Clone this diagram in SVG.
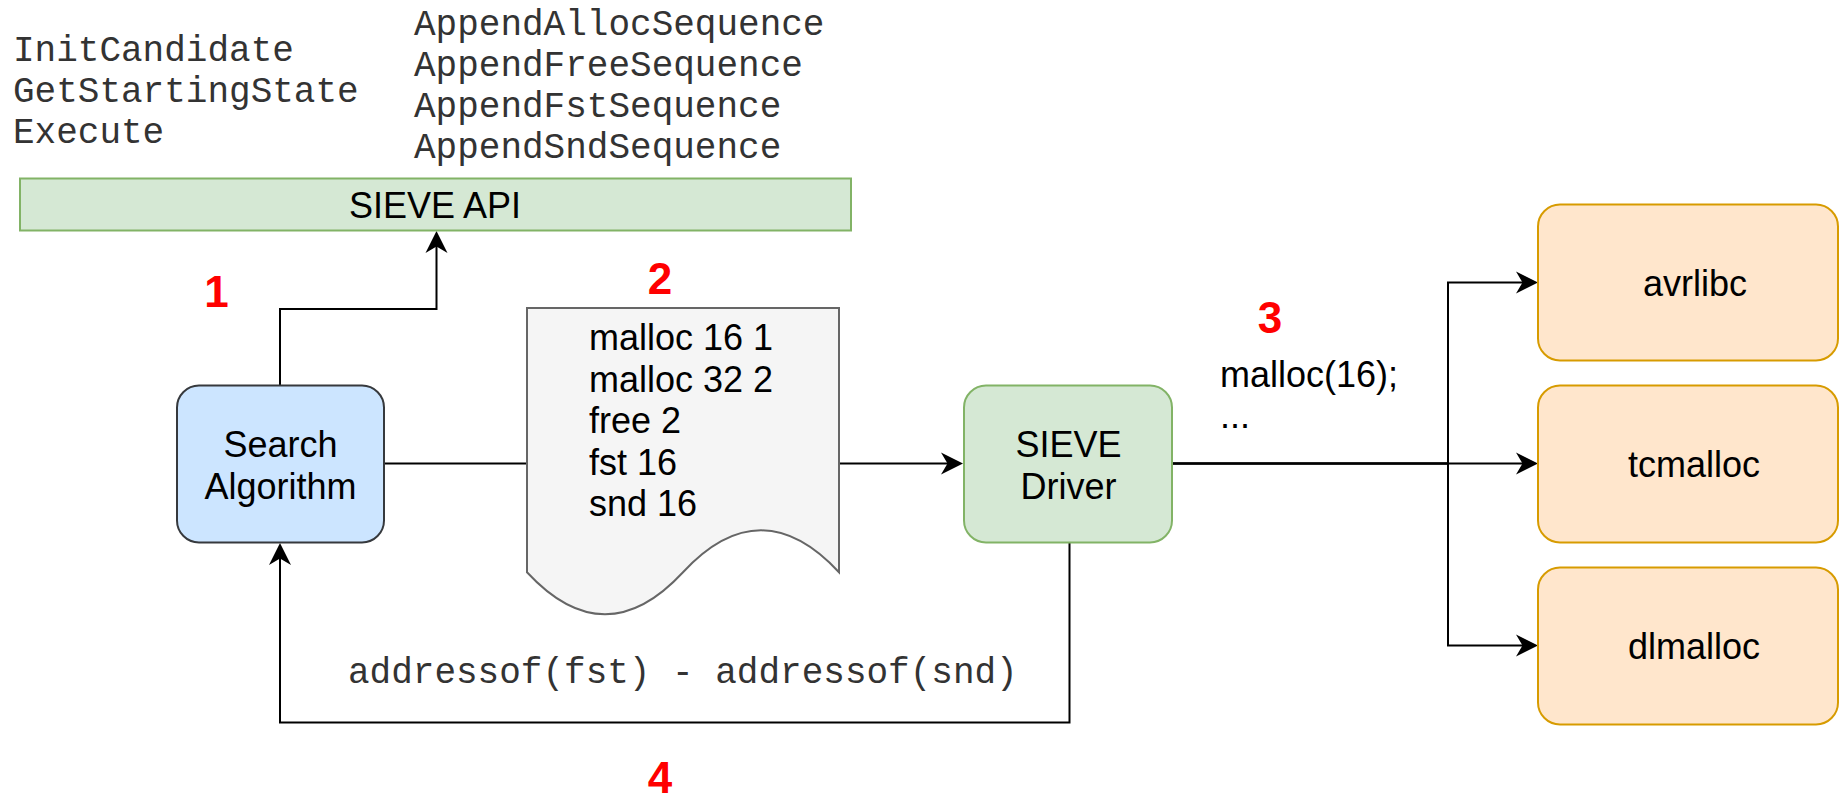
<svg xmlns="http://www.w3.org/2000/svg" width="1842" height="802" viewBox="0 0 1842 802">
  <style>
    .mono { font-family: "Liberation Mono", "Courier New", monospace; font-size: 36px; fill: #333; }
    .sans { font-family: "Liberation Sans", Arial, Helvetica, sans-serif; font-size: 36px; fill: #000; }
    .step { font-family: "Liberation Sans", Arial, Helvetica, sans-serif; font-size: 44px; font-weight: bold; fill: #ff0000; text-anchor: middle; }
    .mid { text-anchor: middle; }
    .edge { fill: none; stroke: #000; stroke-width: 2; }
    .green { fill: #d5e8d4; stroke: #82b366; stroke-width: 2; }
    .orange { fill: #ffe6cc; stroke: #d79b00; stroke-width: 2; }
  </style>
  <defs>
    <marker id="arrow" markerUnits="userSpaceOnUse" viewBox="-25 -12 30 24" markerWidth="30" markerHeight="24" refX="-3" refY="0" orient="auto">
      <path d="M0,0 L-22,-11 L-15.5,0 L-22,11 Z" fill="#000"/>
    </marker>
  </defs>

  <rect width="1842" height="802" fill="#fff"/>

  <!-- API function lists -->
  <g id="api-calls-left">
    <text class="mono" x="13" y="61">InitCandidate</text>
    <text class="mono" x="13" y="102">GetStartingState</text>
    <text class="mono" x="13" y="143">Execute</text>
  </g>
  <g id="api-calls-right">
    <text class="mono" x="414" y="35">AppendAllocSequence</text>
    <text class="mono" x="414" y="76">AppendFreeSequence</text>
    <text class="mono" x="414" y="117">AppendFstSequence</text>
    <text class="mono" x="414" y="158">AppendSndSequence</text>
  </g>

  <!-- connectors -->
  <g id="connectors">
    <path class="edge" d="M280,385 V309 H436.5 V234" marker-end="url(#arrow)"/>
    <path class="edge" d="M384,463.5 H960" marker-end="url(#arrow)"/>
    <path class="edge" d="M1172,463.5 H1448 V282.5 H1535" marker-end="url(#arrow)"/>
    <path class="edge" d="M1172,463.5 H1535" marker-end="url(#arrow)"/>
    <path class="edge" d="M1172,463.5 H1448 V645.5 H1535" marker-end="url(#arrow)"/>
    <path class="edge" d="M1069.5,542 V722.5 H280 V546" marker-end="url(#arrow)"/>
  </g>

  <!-- nodes -->
  <g id="sieve-api">
    <rect class="green" x="20" y="178.5" width="831" height="52"/>
    <text class="sans mid" x="435" y="218">SIEVE API</text>
  </g>

  <g id="search-algorithm">
    <rect x="177" y="385.5" width="207" height="157" rx="22" ry="22" fill="#cce5ff" stroke="#36393d" stroke-width="2"/>
    <text class="sans mid" x="280.5" y="457">Search</text>
    <text class="sans mid" x="280.5" y="499">Algorithm</text>
  </g>

  <g id="sequence-document">
    <path d="M527,308 H839 V572.3 Q761,488.4 683,572.3 Q605,656.3 527,572.3 Z" fill="#f5f5f5" stroke="#666666" stroke-width="2"/>
    <text class="sans" x="589" y="350">malloc 16 1</text>
    <text class="sans" x="589" y="391.5">malloc 32 2</text>
    <text class="sans" x="589" y="433">free 2</text>
    <text class="sans" x="589" y="474.5">fst 16</text>
    <text class="sans" x="589" y="516">snd 16</text>
  </g>

  <g id="sieve-driver">
    <rect class="green" x="964" y="385.5" width="208" height="157" rx="22" ry="22"/>
    <text class="sans mid" x="1068.5" y="457">SIEVE</text>
    <text class="sans mid" x="1068.5" y="499">Driver</text>
  </g>

  <g id="avrlibc">
    <rect class="orange" x="1538" y="204.5" width="300" height="156" rx="22" ry="22"/>
    <text class="sans mid" x="1695" y="295.5">avrlibc</text>
  </g>
  <g id="tcmalloc">
    <rect class="orange" x="1538" y="385.5" width="300" height="157" rx="22" ry="22"/>
    <text class="sans mid" x="1694" y="477">tcmalloc</text>
  </g>
  <g id="dlmalloc">
    <rect class="orange" x="1538" y="567.5" width="300" height="157" rx="22" ry="22"/>
    <text class="sans mid" x="1694" y="659">dlmalloc</text>
  </g>

  <!-- call labels -->
  <g id="call-labels">
    <text class="sans" x="1220" y="387">malloc(16);</text>
    <text class="sans" x="1220" y="428">...</text>
    <text class="mono" x="348" y="683">addressof(fst) - addressof(snd)</text>
  </g>

  <!-- step numbers -->
  <g id="steps">
    <text class="step" x="216.5" y="306.5">1</text>
    <text class="step" x="660" y="293.5">2</text>
    <text class="step" x="1270" y="333">3</text>
    <text class="step" x="660" y="793">4</text>
  </g>
</svg>
